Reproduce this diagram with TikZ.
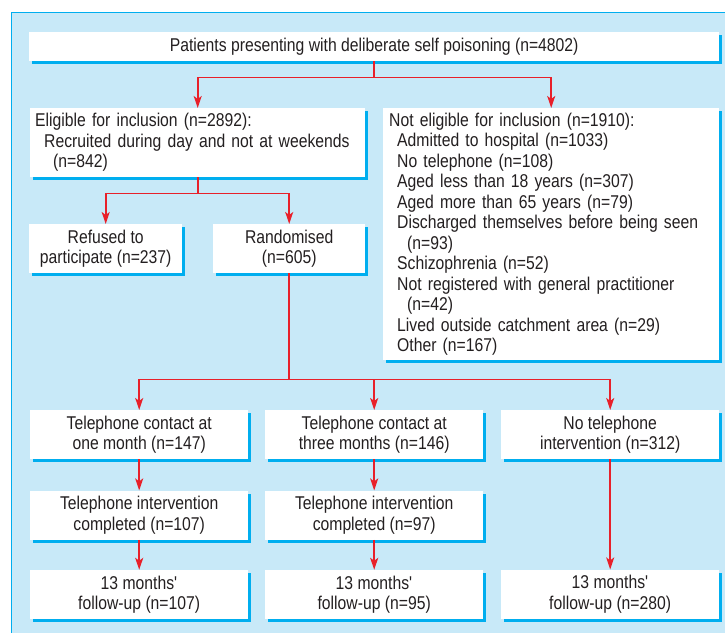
\documentclass[tikz,border=0pt]{standalone}
\usepackage{fontspec}
\setmainfont{Liberation Sans}[FakeStretch=0.85]
\usetikzlibrary{positioning, arrows.meta, shadows}

\definecolor{bgblue}{RGB}{200,233,248}
\definecolor{lineblue}{RGB}{0,174,239}
\definecolor{arrowred}{RGB}{232,32,42}
\definecolor{textgray}{RGB}{35,31,32}

\tikzset{
  box/.style = {rectangle, fill = white, inner sep = 0pt, align = center, text = textgray,
                font = \fontsize{18.5bp}{20.5bp}\selectfont,
                drop shadow = {shadow xshift = 3bp, shadow yshift = -3bp, fill = lineblue, opacity = 1}},
  line/.style = {draw = arrowred, line width = 1.6bp},
  arr/.style = {line, -{Stealth[length = 12bp, width = 8bp, inset = 3bp]}}
}

\begin{document}
\begin{tikzpicture}[x = 1bp, y = -1bp]
        \useasboundingbox (0, 0) rectangle (725, 633);
        \fill[bgblue] (11.5, 12.5) rectangle (726, 634);
        \draw[lineblue, line width = 1.5bp] (11.5, 634) -- (11.5, 12.5) -- (726, 12.5);

        \node[box, anchor = north west, minimum width = 690bp, minimum height = 29bp] (patients) at (29, 32)
            {Patients presenting with deliberate self poisoning (n=4802)};

        \node[box, anchor = north west, align = left, minimum width = 335bp, minimum height = 69bp,
              inner xsep = 5bp, text width = 325bp] (eligible) at (30, 108)
            {Eligible for inclusion (n=2892):\\
             \hspace*{9bp}Recruited during day and not at weekends\\
             \hspace*{18bp}(n=842)};

        \node[box, anchor = north west, align = left, minimum width = 336bp, minimum height = 252bp,
              inner xsep = 6bp, text width = 324bp] (notEligible) at (383, 108)
            {Not eligible for inclusion (n=1910):\\
             \hspace*{8bp}Admitted to hospital (n=1033)\\
             \hspace*{8bp}No telephone (n=108)\\
             \hspace*{8bp}Aged less than 18 years (n=307)\\
             \hspace*{8bp}Aged more than 65 years (n=79)\\
             \hspace*{8bp}Discharged themselves before being seen\\
             \hspace*{18bp}(n=93)\\
             \hspace*{8bp}Schizophrenia (n=52)\\
             \hspace*{8bp}Not registered with general practitioner\\
             \hspace*{18bp}(n=42)\\
             \hspace*{8bp}Lived outside catchment area (n=29)\\
             \hspace*{8bp}Other (n=167)};

        \node[box, anchor = north west, minimum width = 153bp, minimum height = 49bp] (refused) at (29, 224)
            {Refused to\\participate (n=237)};
        \node[box, anchor = north west, minimum width = 152bp, minimum height = 49bp] (randomised) at (213, 224)
            {Randomised\\(n=605)};

        \node[box, anchor = north west, minimum width = 218bp, minimum height = 49bp] (contactOne) at (30, 410)
            {Telephone contact at\\one month (n=147)};
        \node[box, anchor = north west, minimum width = 218bp, minimum height = 49bp] (contactThree) at (265, 410)
            {Telephone contact at\\three months (n=146)};
        \node[box, anchor = north west, minimum width = 218bp, minimum height = 49bp] (noContact) at (501, 410)
            {No telephone\\intervention (n=312)};

        \node[box, minimum width = 218bp, minimum height = 49bp] (doneOne) [below = 31bp of contactOne]
            {Telephone intervention\\completed (n=107)};
        \node[box, minimum width = 218bp, minimum height = 49bp] (doneThree) [below = 31bp of contactThree]
            {Telephone intervention\\completed (n=97)};

        \node[box, minimum width = 218bp, minimum height = 49bp] (followOne) [below = 30bp of doneOne]
            {13 months\textquotesingle\\follow-up (n=107)};
        \node[box, minimum width = 218bp, minimum height = 49bp] (followThree) [below = 30bp of doneThree]
            {13 months\textquotesingle\\follow-up (n=95)};
        \node[box, minimum width = 218bp, minimum height = 49bp] (followNone) [below = 110bp of noContact]
            {13 months\textquotesingle\\follow-up (n=280)};

        \draw[line] (patients.south) -- ++(0, 16) coordinate (split);
        \draw[arr] (split) -| (eligible.north);
        \draw[arr] (split) -| (notEligible.north);

        \draw[line] (eligible.south) -- ++(0, 16) coordinate (splitElig);
        \draw[arr] (splitElig) -| (refused.north);
        \draw[arr] (splitElig) -| (randomised.north);

        \draw[line] (randomised.south) -- ++(0, 106) coordinate (splitRand);
        \draw[arr] (splitRand) -| (contactOne.north);
        \draw[arr] (splitRand) -| (contactThree.north);
        \draw[arr] (splitRand) -| (noContact.north);

        \draw[arr] (contactOne) -- (doneOne);
        \draw[arr] (doneOne) -- (followOne);
        \draw[arr] (contactThree) -- (doneThree);
        \draw[arr] (doneThree) -- (followThree);
        \draw[arr] (noContact) -- (followNone);
      \end{tikzpicture}
\end{document}
